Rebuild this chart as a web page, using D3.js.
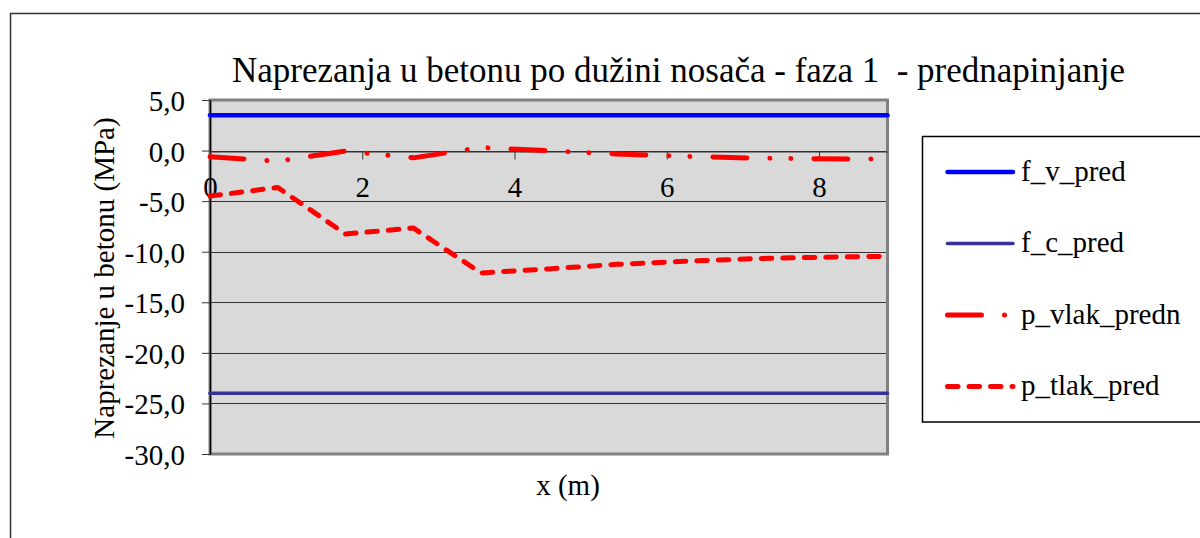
<!DOCTYPE html>
<html lang="hr">
  <head>
    <meta charset="utf-8" />
    <title>Naprezanja u betonu</title>
    <script type="text/javascript" src="https://d3js.org/d3.v7.min.js"></script>
    <style>
      body { margin: 0; background: #fff; }
    </style>
  </head>
  <body>
    <div id="graph"></div>

    <script type="text/javascript">
      /********************************
       * data
       ********************************/

      const xPos = [0, 0.89, 1.78, 2.67, 3.56, 4.45, 5.34, 6.23, 7.12, 8.01, 8.9];
      const fVPred = [3.5, 3.5, 3.5, 3.5, 3.5, 3.5, 3.5, 3.5, 3.5, 3.5, 3.5];
      const fCPred = [-24, -24, -24, -24, -24, -24, -24, -24, -24, -24, -24];
      const pVlakPredn = [-0.6, -1.05, -0.05, -0.72, 0.3, -0.02, -0.33, -0.57, -0.74, -0.82, -0.85];
      const pTlakPred = [-4.5, -3.65, -8.25, -7.65, -12.1, -11.7, -11.25, -10.95, -10.7, -10.55, -10.45];

      const yTicks = [5, 0, -5, -10, -15, -20, -25, -30];
      const xTicks = [0, 2, 4, 6, 8];

      const seriesNames = ["f_v_pred", "f_c_pred", "p_vlak_predn", "p_tlak_pred"];

      const title = "Naprezanja u betonu po dužini nosača - faza 1  - prednapinjanje";

      /***************************
       * create svg
       **************************/

      const width = 1200;
      const height = 538;
      const plot = { left: 210, right: 887.5, top: 100, bottom: 454 };
      const serif = "Liberation Serif";

      const svg = d3
        .select("div#graph")
        .append("svg")
        .attr("width", width)
        .attr("height", height)
        .attr("font-family", serif);

      // outer chart frame
      svg
        .append("rect")
        .attr("x", 10.5)
        .attr("y", 13.5)
        .attr("width", 1250)
        .attr("height", 600)
        .attr("fill", "#fff")
        .attr("stroke", "#333")
        .attr("stroke-width", 1.5);

      /****************************
       * scale
       *************************/

      const xScale = d3.scaleLinear().domain([0, 8.9]).range([plot.left, plot.right]);
      const yScale = d3.scaleLinear().domain([-30, 5]).range([plot.bottom, plot.top]);

      const locale = d3.formatLocale({
        decimal: ",",
        thousands: ".",
        grouping: [3],
        currency: ["", ""],
        minus: "-",
      });
      const fmt = locale.format(".1f");

      // plot background
      svg
        .append("rect")
        .attr("x", plot.left)
        .attr("y", plot.top)
        .attr("width", plot.right - plot.left)
        .attr("height", plot.bottom - plot.top)
        .attr("fill", "#d9d9d9");

      // gridlines
      svg
        .append("g")
        .selectAll("line")
        .data(yTicks)
        .enter()
        .append("line")
        .attr("x1", plot.left)
        .attr("x2", plot.right)
        .attr("y1", (d) => Math.round(yScale(d)) + 0.5)
        .attr("y2", (d) => Math.round(yScale(d)) + 0.5)
        .attr("stroke", "#333")
        .attr("stroke-width", 1);

      // plot border
      svg
        .append("rect")
        .attr("x", plot.left)
        .attr("y", plot.top)
        .attr("width", plot.right - plot.left)
        .attr("height", plot.bottom - plot.top)
        .attr("fill", "none")
        .attr("stroke", "#808080")
        .attr("stroke-width", 3);

      /*********************************
       * create Axes
       *******************************/

      const yAxis = d3
        .axisLeft(yScale)
        .tickValues(yTicks)
        .tickFormat(fmt)
        .tickSize(8)
        .tickSizeOuter(0)
        .tickPadding(17);

      const yAxisGroup = svg
        .append("g")
        .attr("transform", `translate(${plot.left},0)`)
        .call(yAxis)
        .attr("font-family", serif)
        .attr("font-size", 29);
      yAxisGroup.select(".domain").attr("stroke", "#000").attr("stroke-width", 1.5);
      yAxisGroup.selectAll(".tick line").attr("stroke", "#333");
      yAxisGroup.selectAll("text").attr("dy", "0.36em");

      const xAxis = d3
        .axisBottom(xScale)
        .tickValues(xTicks)
        .tickFormat(d3.format("d"))
        .tickSize(8)
        .tickSizeOuter(0);

      const xAxisGroup = svg
        .append("g")
        .attr("transform", `translate(0,${Math.round(yScale(0)) + 0.5})`)
        .call(xAxis)
        .attr("font-family", serif)
        .attr("font-size", 29);
      xAxisGroup.select(".domain").attr("stroke", "#333");
      xAxisGroup.selectAll(".tick line").attr("stroke", "#333");
      xAxisGroup.selectAll("text").attr("y", 25).attr("dy", "0.71em");

      /*********************************
       * series
       *******************************/

      const line = d3
        .line()
        .x((d) => xScale(d[0]))
        .y((d) => yScale(d[1]));

      const styles = [
        { color: "#0000ff", width: 4.5, dash: null },
        { color: "#333399", width: 3.5, dash: null },
        { color: "#ff0000", width: 5, dash: "34,23,0.01,21,0.01,23" },
        { color: "#ff0000", width: 5, dash: "10.5,11" },
      ];
      const seriesValues = [fVPred, fCPred, pVlakPredn, pTlakPred];

      seriesValues.forEach((vals, i) => {
        svg
          .append("path")
          .datum(xPos.map((x, j) => [x, vals[j]]))
          .attr("d", line)
          .attr("fill", "none")
          .attr("stroke", styles[i].color)
          .attr("stroke-width", styles[i].width)
          .attr("stroke-linecap", "round")
          .attr("stroke-linejoin", "round")
          .attr("stroke-dasharray", styles[i].dash);
      });

      /*********************************
       * titles
       *******************************/

      svg
        .append("text")
        .attr("x", 678.5)
        .attr("y", 82)
        .attr("text-anchor", "middle")
        .attr("font-size", 35)
        .style("white-space", "pre")
        .text(title);

      svg
        .append("text")
        .attr("x", 568)
        .attr("y", 495)
        .attr("text-anchor", "middle")
        .attr("font-size", 29)
        .text("x (m)");

      svg
        .append("text")
        .attr("transform", "translate(114,278) rotate(-90)")
        .attr("text-anchor", "middle")
        .attr("font-size", 29)
        .text("Naprezanje u betonu (MPa)");

      /*********************************
       * legend
       *******************************/

      const legend = svg.append("g");
      legend
        .append("rect")
        .attr("x", 922.5)
        .attr("y", 136.5)
        .attr("width", 320)
        .attr("height", 285.5)
        .attr("fill", "#fff")
        .attr("stroke", "#000")
        .attr("stroke-width", 1.5);

      const items = legend
        .selectAll("g.item")
        .data(seriesNames)
        .enter()
        .append("g")
        .attr("class", "item")
        .attr("transform", (d, i) => `translate(0,${172 + i * 71.5})`);

      items
        .append("line")
        .attr("x1", 947.5)
        .attr("x2", 1013)
        .attr("y1", 0)
        .attr("y2", 0)
        .attr("stroke", (d, i) => styles[i].color)
        .attr("stroke-width", (d, i) => styles[i].width)
        .attr("stroke-linecap", "round")
        .attr("stroke-dasharray", (d, i) => styles[i].dash);

      items
        .append("text")
        .attr("x", 1021)
        .attr("y", 0)
        .attr("dy", "0.3em")
        .attr("font-size", 29)
        .text((d) => d);
    </script>
  </body>
</html>
